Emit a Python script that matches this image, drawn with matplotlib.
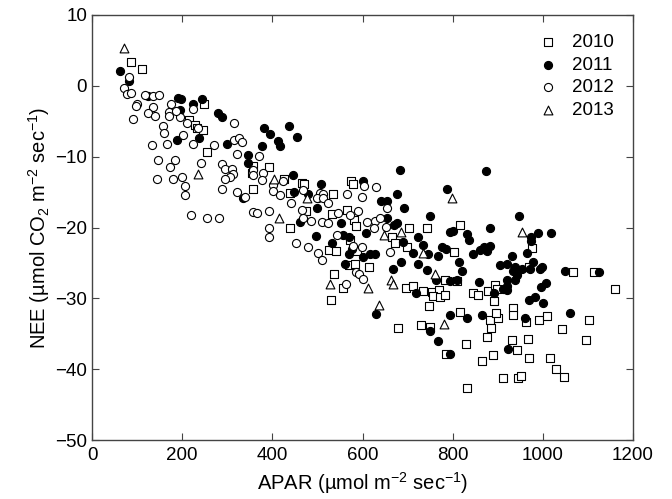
import matplotlib
matplotlib.use("Agg")
import matplotlib.pyplot as plt

plt.rcParams['font.family'] = ['Liberation Sans', 'DejaVu Sans']
plt.rcParams['mathtext.fontset'] = 'custom'
plt.rcParams['mathtext.rm'] = 'Liberation Sans'
plt.rcParams['mathtext.it'] = 'Liberation Sans:italic'

# 2010 - open squares
apar_2010 = [86, 110, 249, 216, 228, 232, 247, 256, 356, 354, 393, 358,
             426, 439, 465, 470, 534, 574, 578, 475, 438, 532, 565, 580, 586,
             572, 526, 541, 587, 569, 583, 615, 537, 556, 529,
             665, 672, 704, 742, 698, 696, 713, 733, 753, 770, 757, 772, 783,
             748, 783, 809, 803, 816, 846, 857, 879, 894, 899, 891, 933,
             975, 970, 1066, 1113, 1160,
             678, 729, 750, 816, 785, 829, 831, 883, 901, 896, 875, 886, 933,
             865, 889, 931, 943, 911, 945, 951,
             962, 991, 1010, 1102, 1042, 1095, 966, 970, 1016, 1029, 1047]
nee_2010 = [3.3, 2.4, -2.5, -4.8, -5.5, -6.0, -6.3, -9.3, -11.3, -12.3, -11.5, -14.5,
            -13.2, -15.1, -13.7, -13.8, -15.3, -13.4, -13.8, -17.7, -20.0, -18.1, -17.5, -18.9, -19.8,
            -21.8, -23.2, -23.3, -23.3, -25.3, -25.1, -25.6, -26.5, -28.5, -30.2,
            -21.3, -22.2, -20.0, -20.1, -22.7, -28.5, -28.3, -28.9, -29.1, -28.8, -29.7, -29.8, -29.5,
            -31.1, -27.4, -27.5, -23.4, -19.7, -29.3, -29.5, -28.9, -28.1, -28.7, -30.4, -31.4,
            -22.9, -25.5, -26.3, -26.3, -28.7,
            -34.2, -33.8, -34.0, -31.9, -37.9, -36.4, -42.6, -33.0, -32.8, -32.0, -35.5, -34.2, -32.4,
            -38.9, -38.0, -35.9, -37.3, -41.2, -41.2, -41.0,
            -33.3, -33.0, -32.5, -33.1, -34.3, -35.9, -35.8, -38.4, -38.4, -40.0, -41.1]

# 2011 - filled circles
apar_2011 = [61, 82, 125, 191, 197, 194, 223, 243, 280, 288, 189, 237, 299, 382, 395,
             412, 417, 378, 345, 345, 334, 437, 455,
             445, 447, 480, 507, 502, 498, 600, 642, 654, 677, 683, 787, 461, 552,
             497, 557, 569, 608, 532, 569, 576, 600, 617, 628, 561, 630,
             691, 655, 676, 670, 750, 689, 711, 746, 722, 733, 685, 667, 724, 744,
             719, 764, 794, 809, 776, 785, 768, 815, 820, 794, 800, 831, 837, 844,
             861, 869, 875, 883, 883, 859, 892, 906, 921, 911, 920, 931, 938, 942,
             938, 933, 948, 921, 920, 874,
             973, 973, 990, 1017, 964, 979, 972, 953, 997, 994, 1049, 1125, 1007, 995,
             750, 795, 831, 768, 793, 866, 922,
             970, 982, 1001, 960, 1060]
nee_2011 = [2.1, 0.7, -1.5, -1.7, -1.9, -3.4, -2.5, -1.9, -3.8, -4.4, -7.6, -7.3, -8.2, -6.0, -6.8,
            -7.8, -8.5, -8.5, -9.7, -10.9, -15.8, -5.7, -7.2,
            -12.6, -15.0, -15.3, -13.9, -15.9, -17.3, -13.4, -16.2, -16.2, -15.3, -11.9, -14.6, -19.2, -19.4,
            -21.2, -21.1, -21.4, -20.8, -22.2, -23.7, -23.0, -24.1, -23.7, -23.8, -25.1, -32.2,
            -17.2, -18.6, -19.4, -19.7, -18.4, -22.0, -23.6, -23.8, -21.4, -22.5, -24.8, -25.8, -25.2, -26.0,
            -29.3, -27.4, -27.5, -27.4, -22.7, -23.0, -24.0, -24.8, -26.1, -20.6, -20.5, -20.9, -21.7, -23.8,
            -23.1, -22.7, -23.3, -22.6, -20.1, -27.7, -29.2, -25.3, -25.1, -28.7, -28.3, -24.0, -25.5, -26.7,
            -27.4, -26.2, -18.4, -27.4, -28.8, -12.0,
            -21.3, -21.9, -20.7, -20.8, -23.6, -24.8, -25.9, -25.9, -25.6, -25.8, -26.2, -26.3, -27.8, -28.4,
            -34.6, -32.4, -32.8, -36.0, -37.8, -32.3, -37.1,
            -30.2, -29.8, -30.6, -32.7, -32.1]

# 2012 - open circles
apar_2012 = [83, 70, 77, 86, 99, 97, 90, 118, 135, 149, 136, 125, 140, 176, 171, 170,
             194, 186, 211, 234, 158, 160, 201, 132, 167, 223, 271, 315, 315, 325, 332, 223,
             146, 184, 173, 199, 206, 206, 143, 179, 241, 288, 295, 310, 313, 306, 295, 288,
             321, 371, 356, 358, 380, 378, 321, 339, 358, 365, 392, 219, 256, 282, 392, 392,
             401, 401,
             423, 417, 441, 469, 506, 513, 498, 512, 524, 566, 603, 630, 598, 465, 469, 485,
             509, 524, 546, 591, 572, 609, 628, 639, 625,
             544, 453, 480, 502, 509, 578, 598, 586, 593, 600, 563,
             654, 652, 661]
nee_2012 = [1.2, -0.3, -1.2, -1.0, -2.6, -2.8, -4.7, -1.3, -1.4, -1.3, -3.0, -3.8, -4.3, -2.6, -3.7, -4.3,
            -4.4, -3.5, -5.3, -5.9, -5.7, -6.6, -7.0, -8.3, -8.2, -8.2, -8.3, -5.2, -7.7, -7.3, -7.9, -3.3,
            -10.5, -10.4, -11.4, -12.8, -14.2, -15.4, -13.2, -13.1, -10.9, -11.0, -11.7, -11.7, -12.4, -12.8, -13.2, -14.6,
            -9.6, -9.9, -11.9, -12.6, -12.3, -13.3, -15.0, -15.7, -17.8, -17.9, -17.7, -18.3, -18.6, -18.6, -20.1, -21.4,
            -14.0, -14.8,
            -13.5, -15.4, -16.5, -14.7, -15.1, -15.3, -15.8, -15.9, -16.6, -15.2, -14.2, -14.3, -15.7, -17.5, -18.6, -19.1,
            -19.2, -19.4, -17.9, -17.6, -18.3, -19.2, -19.1, -18.7, -20.0,
            -21.1, -22.2, -22.7, -23.6, -24.6, -22.6, -22.8, -26.3, -26.6, -27.2, -27.9,
            -17.3, -19.9, -23.4]

# 2013 - open triangles
apar_2013 = [70, 234, 404, 414, 476, 798, 528, 611, 637, 648, 685, 733, 761, 663, 668, 781, 953]
nee_2013 = [5.4, -12.5, -13.2, -18.7, -15.9, -15.9, -28.0, -28.6, -31.0, -21.1, -20.6, -23.6,
            -26.6, -27.4, -28.0, -33.6, -20.6]

fig = plt.figure(figsize=(6.72, 4.99), dpi=100)
ax = fig.add_axes([0.137, 0.118, 0.805, 0.852])

ms = 34
ax.scatter(apar_2010, nee_2010, s=ms, marker='s', facecolors='white', edgecolors='black',
           linewidths=0.8, label='2010', zorder=3)
ax.scatter(apar_2011, nee_2011, s=ms, marker='o', facecolors='black', edgecolors='black',
           linewidths=0.8, label='2011', zorder=3)
ax.scatter(apar_2012, nee_2012, s=ms, marker='o', facecolors='white', edgecolors='black',
           linewidths=0.8, label='2012', zorder=3)
ax.scatter(apar_2013, nee_2013, s=ms + 6, marker='^', facecolors='white', edgecolors='black',
           linewidths=0.8, label='2013', zorder=3)

ax.set_xlim(0, 1200)
ax.set_ylim(-50, 10)
ax.set_xticks(range(0, 1201, 200))
ax.set_yticks(range(-50, 11, 10))
ax.tick_params(direction='in', top=True, right=True, length=5, labelsize=13.5, color='#444444')
ax.tick_params(axis='x', pad=5)
for sp in ax.spines.values():
    sp.set_color('#444444')
    sp.set_linewidth(1.0)

ax.set_xlabel('APAR (µmol m$^{-2}$ sec$^{-1}$)', fontsize=14.5, labelpad=4)
ax.set_ylabel('NEE (µmol CO$_2$ m$^{-2}$ sec$^{-1}$)', fontsize=14.5, labelpad=2)

ax.legend(loc='upper right', frameon=False, fontsize=13.5, handlelength=0.8,
          handletextpad=0.9, labelspacing=0.3, borderaxespad=0.6, scatterpoints=1)

fig.savefig('out.png', dpi=100)
